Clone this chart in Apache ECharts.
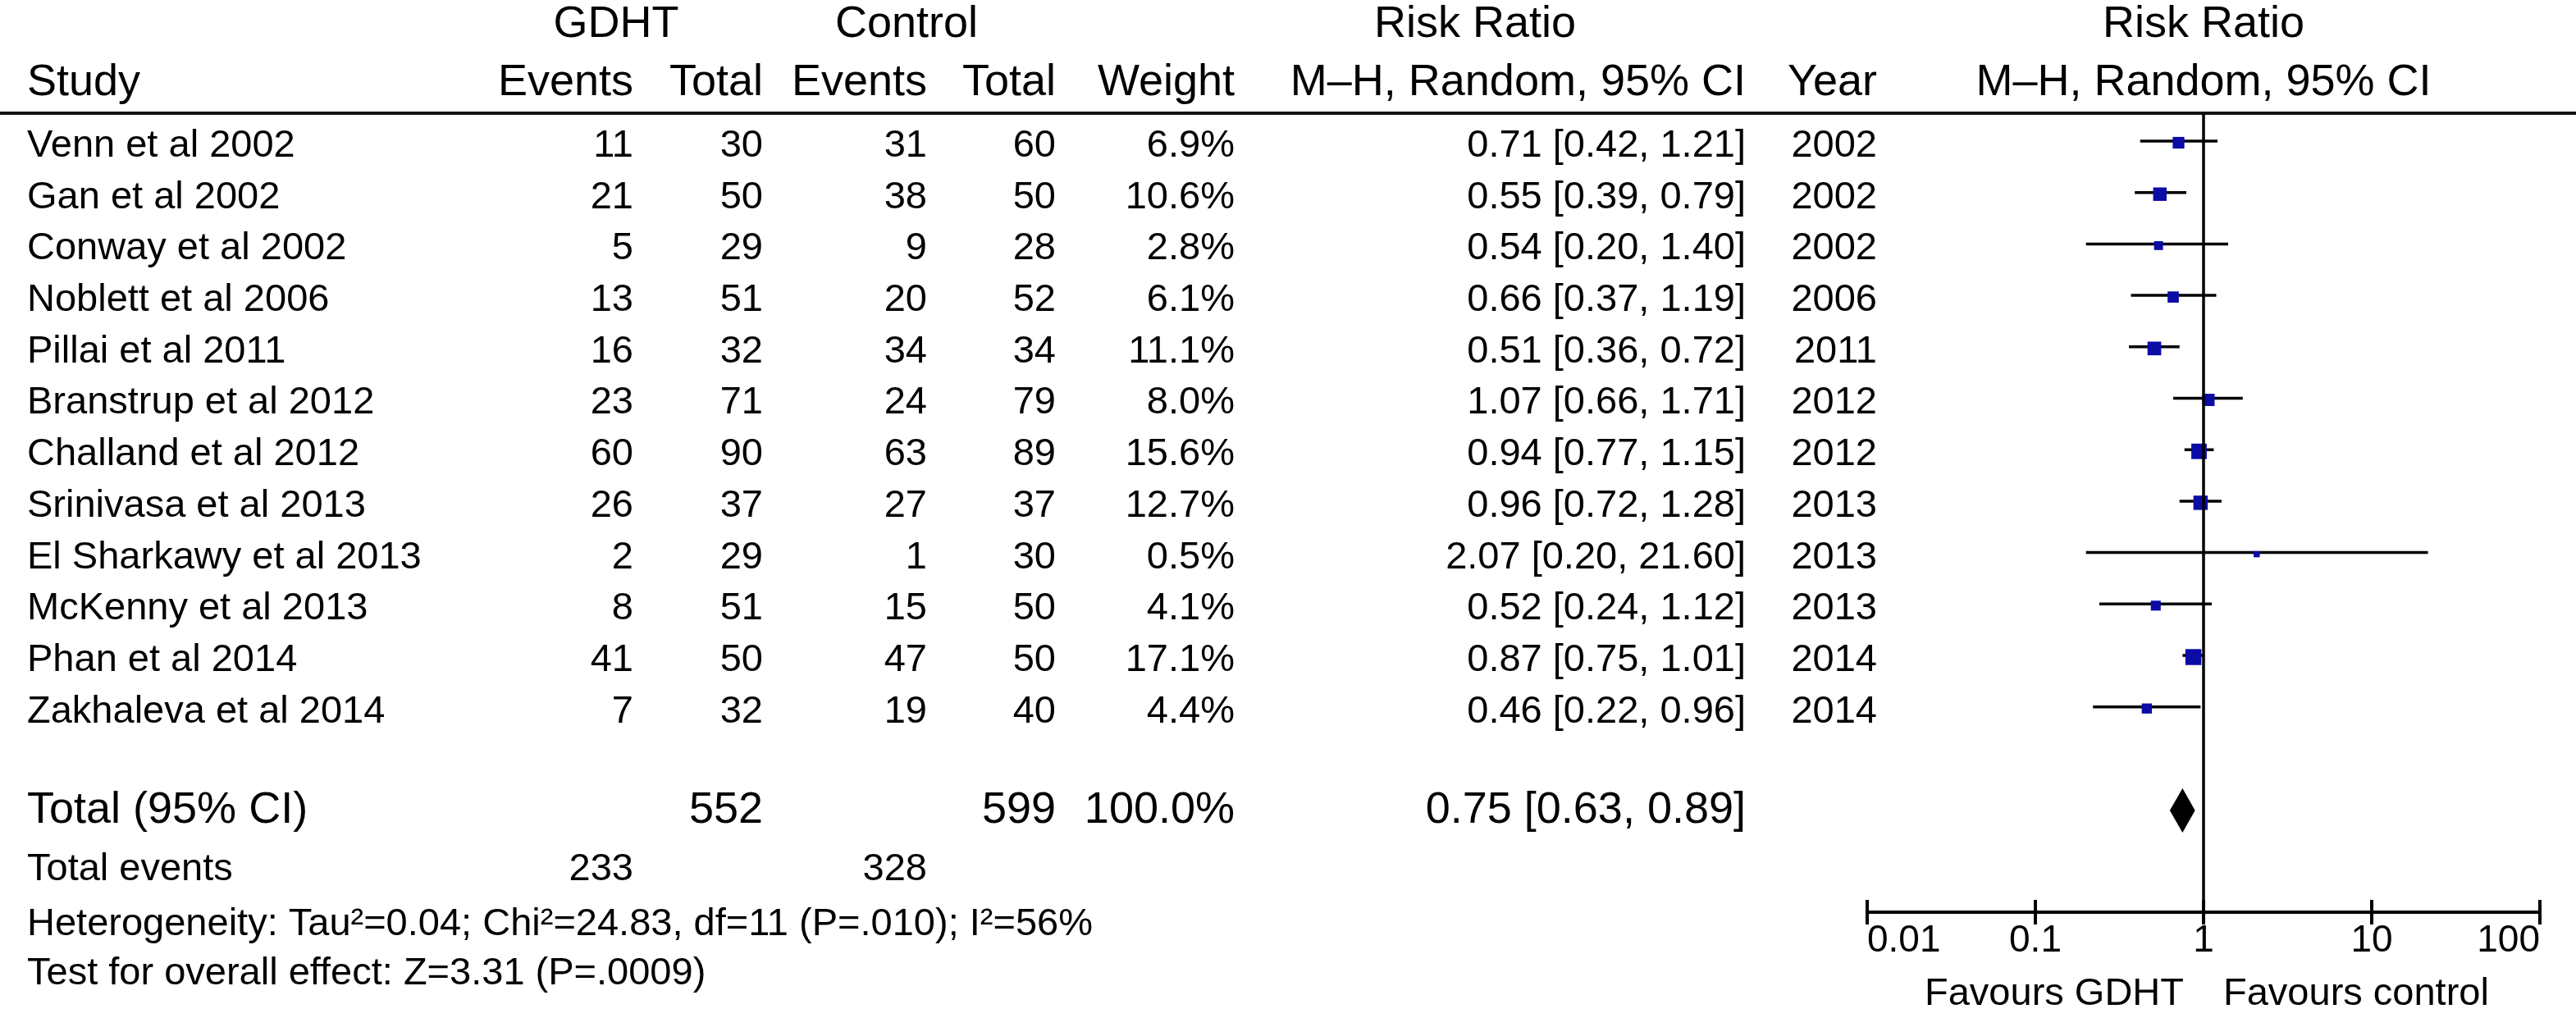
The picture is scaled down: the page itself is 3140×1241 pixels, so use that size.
<!DOCTYPE html>
<html>
<head>
<meta charset="utf-8">
<script src="https://cdn.jsdelivr.net/npm/echarts@6/dist/echarts.min.js"></script>
<style>
html,body{margin:0;padding:0;background:#fff;}
#c{width:3140px;height:1241px;}
</style>
</head>
<body>
<div id="c"></div>
<script>
// ---------------- data ----------------
const studies = ['Venn et al 2002','Gan et al 2002','Conway et al 2002','Noblett et al 2006','Pillai et al 2011','Branstrup et al 2012','Challand et al 2012','Srinivasa et al 2013','El Sharkawy et al 2013','McKenny et al 2013','Phan et al 2014','Zakhaleva et al 2014'];
const gdhtEvents = [11,21,5,13,16,23,60,26,2,8,41,7];
const gdhtTotal  = [30,50,29,51,32,71,90,37,29,51,50,32];
const ctrlEvents = [31,38,9,20,34,24,63,27,1,15,47,19];
const ctrlTotal  = [60,50,28,52,34,79,89,37,30,50,50,40];
const weights    = [6.9,10.6,2.8,6.1,11.1,8.0,15.6,12.7,0.5,4.1,17.1,4.4];
const rr         = [0.71,0.55,0.54,0.66,0.51,1.07,0.94,0.96,2.07,0.52,0.87,0.46];
const ciLow      = [0.42,0.39,0.20,0.37,0.36,0.66,0.77,0.72,0.20,0.24,0.75,0.22];
const ciHigh     = [1.21,0.79,1.40,1.19,0.72,1.71,1.15,1.28,21.60,1.12,1.01,0.96];
const years      = [2002,2002,2002,2006,2011,2012,2012,2013,2013,2013,2014,2014];
const pooled     = {rr:0.75, lo:0.63, hi:0.89, weight:100.0};
const totals     = {gdhtTotal:552, ctrlTotal:599, gdhtEvents:233, ctrlEvents:328};
const heterogeneity = 'Heterogeneity: Tau²=0.04; Chi²=24.83, df=11 (P=.010); I²=56%';
const overall    = 'Test for overall effect: Z=3.31 (P=.0009)';
const tickLabels = ['0.01','0.1','1','10','100'];
const favours    = ['Favours GDHT','Favours control'];

// ---------------- layout ----------------
const W = 3140, H = 1241;
const ROW0 = 178, ROWH = 62.7;          // table row mapping
const FROW0 = 172;                       // forest row mapping (px of row 0)
const FTOP = 138, FBOT = 1112;           // forest grid vertical extent
const FLEFT = 2276, FRIGHT = 3096;
const FONT = '"Liberation Sans", Arial, Helvetica, sans-serif';
const COL = {study:33, ev1:772, tot1:930, ev2:1130, tot2:1287, weight:1505, ci:2128, year:2288, plot:2686};
const R = {head1:-2.36, head2:-1.23, rule:-0.64, total:12.92, events:14.07, het:15.13, test:16.09, fav:16.49};
const S = {head:54, row:47, total:54, foot:47, axis:46};

const fmt2 = v => v.toFixed(2);
const ciText = (a,b,c) => fmt2(a)+' ['+fmt2(b)+', '+fmt2(c)+']';

// ---------------- table cells ----------------
const cells = [];
function cell(x, r, text, align, size){ cells.push({x, r, text:String(text), align, size}); }
cell(751, R.head1, 'GDHT', 'center', S.head);
cell(1105, R.head1, 'Control', 'center', S.head);
cell(1798, R.head1, 'Risk Ratio', 'center', S.head);
cell(COL.plot, R.head1, 'Risk Ratio', 'center', S.head);
cell(COL.study, R.head2, 'Study', 'left', S.head);
cell(COL.ev1, R.head2, 'Events', 'right', S.head);
cell(COL.tot1, R.head2, 'Total', 'right', S.head);
cell(COL.ev2, R.head2, 'Events', 'right', S.head);
cell(COL.tot2, R.head2, 'Total', 'right', S.head);
cell(COL.weight, R.head2, 'Weight', 'right', S.head);
cell(COL.ci, R.head2, 'M–H, Random, 95% CI', 'right', S.head);
cell(COL.year, R.head2, 'Year', 'right', S.head);
cell(COL.plot, R.head2, 'M–H, Random, 95% CI', 'center', S.head);
studies.forEach((s,i)=>{
  cell(COL.study, i, s, 'left', S.row);
  cell(COL.ev1, i, gdhtEvents[i], 'right', S.row);
  cell(COL.tot1, i, gdhtTotal[i], 'right', S.row);
  cell(COL.ev2, i, ctrlEvents[i], 'right', S.row);
  cell(COL.tot2, i, ctrlTotal[i], 'right', S.row);
  cell(COL.weight, i, weights[i].toFixed(1)+'%', 'right', S.row);
  cell(COL.ci, i, ciText(rr[i], ciLow[i], ciHigh[i]), 'right', S.row);
  cell(COL.year, i, years[i], 'right', S.row);
});
cell(COL.study, R.total, 'Total (95% CI)', 'left', S.total);
cell(COL.tot1, R.total, totals.gdhtTotal, 'right', S.total);
cell(COL.tot2, R.total, totals.ctrlTotal, 'right', S.total);
cell(COL.weight, R.total, pooled.weight.toFixed(1)+'%', 'right', S.total);
cell(COL.ci, R.total, ciText(pooled.rr, pooled.lo, pooled.hi), 'right', S.total);
cell(COL.study, R.events, 'Total events', 'left', S.foot);
cell(COL.ev1, R.events, totals.gdhtEvents, 'right', S.foot);
cell(COL.ev2, R.events, totals.ctrlEvents, 'right', S.foot);
cell(COL.study, R.het, heterogeneity, 'left', S.foot);
cell(COL.study, R.test, overall, 'left', S.foot);
cell(COL.plot-24, R.fav, favours[0], 'right', S.foot);
cell(COL.plot+24, R.fav, favours[1], 'left', S.foot);

// ---------------- chart ----------------
const chart = echarts.init(document.getElementById('c'), null, {renderer:'canvas'});
const forestData = studies.map((s,i)=>[rr[i], i, ciLow[i], ciHigh[i], weights[i]]);
const diamondRow = (988 - FROW0) / ROWH;

const option = {
  backgroundColor:'#fff',
  animation:false,
  grid:[
    {left:0, top:0, width:W, height:H, containLabel:false, outerBoundsMode:'none'},
    {left:FLEFT, top:FTOP, width:FRIGHT-FLEFT, height:FBOT-FTOP, containLabel:false, outerBoundsMode:'none'}
  ],
  xAxis:[
    {gridIndex:0, type:'value', min:0, max:W, show:false},
    {gridIndex:1, type:'log', logBase:10, min:0.01, max:100, interval:1, position:'bottom',
      axisLine:{show:true, onZero:false, lineStyle:{color:'#000', width:4}},
      axisTick:{show:true, length:15, inside:false, lineStyle:{color:'#000', width:4}},
      axisLabel:{show:true, color:'#000', fontSize:S.axis, fontFamily:FONT, margin:12,
        alignMinLabel:'left', alignMaxLabel:'right',
        formatter:(v)=>{ const k = Math.round(Math.log10(v))+2; return tickLabels[k] || ''; }},
      splitLine:{show:false}},
    {gridIndex:1, type:'log', logBase:10, min:0.01, max:100, interval:1, position:'bottom',
      axisLine:{show:false, onZero:false},
      axisTick:{show:true, length:15, inside:true, lineStyle:{color:'#000', width:4}},
      axisLabel:{show:false}, splitLine:{show:false}}
  ],
  yAxis:[
    {gridIndex:0, type:'value', inverse:true, min:-ROW0/ROWH, max:(H-ROW0)/ROWH, show:false},
    {gridIndex:1, type:'value', inverse:true, min:(FTOP-FROW0)/ROWH, max:(FBOT-FROW0)/ROWH, show:false}
  ],
  series:[
    { // header rule
      type:'scatter', xAxisIndex:0, yAxisIndex:0, data:[], silent:true, z:2,
      markLine:{silent:true, symbol:'none', label:{show:false},
        lineStyle:{color:'#111', width:4, type:'solid'}, data:[{yAxis:R.rule}]}
    },
    { // table text
      type:'custom', xAxisIndex:0, yAxisIndex:0, clip:false, silent:true, z:5,
      data:cells.map(c=>[c.x, c.r]),
      encode:{x:0, y:1},
      renderItem:(params, api)=>{
        const c = cells[params.dataIndex];
        const p = api.coord([api.value(0), api.value(1)]);
        return {type:'text', x:p[0], y:p[1],
          style:{text:c.text, fill:'#000', fontSize:c.size, fontFamily:FONT, align:c.align, verticalAlign:'middle'}};
      }
    },
    { // line of no effect
      type:'scatter', xAxisIndex:1, yAxisIndex:1, data:[], silent:true, z:1,
      markLine:{silent:true, symbol:'none', label:{show:false},
        lineStyle:{color:'#000', width:3.5, type:'solid'}, data:[{xAxis:1}]}
    },
    { // study CIs and squares
      type:'custom', xAxisIndex:1, yAxisIndex:1, clip:false, silent:true, z:3,
      data:forestData, encode:{x:[0,2,3], y:1},
      renderItem:(params, api)=>{
        const r = api.value(1);
        const pl = api.coord([api.value(2), r]);
        const ph = api.coord([api.value(3), r]);
        const pc = api.coord([api.value(0), r]);
        const s = 5 + 3.5*Math.sqrt(api.value(4));
        return {type:'group', children:[
          {type:'line', shape:{x1:pl[0], y1:pl[1], x2:ph[0], y2:ph[1]}, style:{stroke:'#000', lineWidth:3.5}},
          {type:'rect', shape:{x:pc[0]-s/2, y:pc[1]-s/2+2, width:s, height:s}, style:{fill:'#0b0ba6'}}
        ]};
      }
    },
    { // pooled diamond
      type:'custom', xAxisIndex:1, yAxisIndex:1, clip:false, silent:true, z:3,
      data:[[pooled.rr, diamondRow, pooled.lo, pooled.hi]], encode:{x:[0,2,3], y:1},
      renderItem:(params, api)=>{
        const r = api.value(1);
        const pl = api.coord([api.value(2), r]);
        const ph = api.coord([api.value(3), r]);
        const pc = api.coord([api.value(0), r]);
        return {type:'polygon', shape:{points:[[pl[0],pl[1]],[pc[0],pc[1]-27],[ph[0],ph[1]],[pc[0],pc[1]+27]]},
          style:{fill:'#000'}};
      }
    }
  ]
};
chart.setOption(option);
</script>
</body>
</html>
